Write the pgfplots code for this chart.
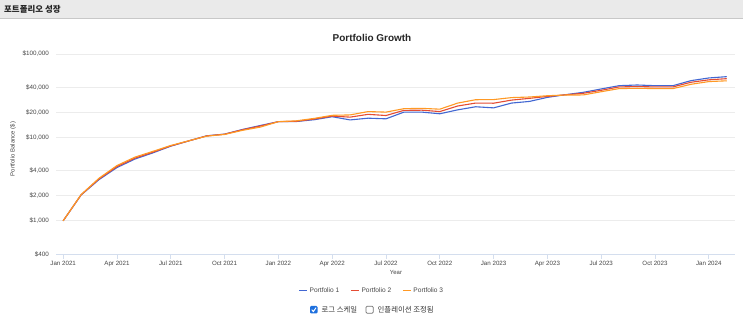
\documentclass[border=0pt]{standalone}
\usepackage{pgfplots}
\pgfplotsset{compat=1.18}
\usepackage{pgfplotstable}
\usepackage{fontspec}
\setmainfont{Liberation Sans}
\newfontfamily\kr{Noto Sans CJK KR}
\definecolor{pblue}{RGB}{66,103,210}
\definecolor{pred}{RGB}{228,76,52}
\definecolor{porange}{RGB}{255,153,36}
\definecolor{gridc}{RGB}{236,236,236}
\definecolor{axc}{RGB}{212,222,238}
\definecolor{hdr}{RGB}{234,234,234}
\definecolor{hdrline}{RGB}{200,200,200}
\definecolor{txt}{RGB}{70,70,70}
\definecolor{cbblue}{RGB}{30,112,222}

% month index (0 = Jan 2021), balances
\pgfplotstableread{
m  p1     p2     p3
0  1000   1000   1000
1  2040   2050   2060
2  3120   3180   3240
3  4350   4470   4600
4  5500   5640   5800
5  6520   6650   6800
6  7850   7910   8000
7  9080   9080   9100
8  10450  10420  10350
9  10950  10920  10850
10 12450  12350  12150
11 13900  13700  13300
12 15450  15450  15450
13 15500  15600  15800
14 16300  16600  16900
15 17700  18000  18400
16 16200  17500  18600
17 17000  18900  20400
18 16700  18300  20100
19 20100  21100  22100
20 20100  21200  22300
21 19200  20400  21800
22 21400  23800  25800
23 23300  25800  28300
24 22600  25700  28400
25 25800  28000  30000
26 27000  29400  30500
27 30200  31000  31600
28 32500  32400  32200
29 34700  33800  32300
30 38100  36700  35300
31 41700  40300  38500
32 42500  40700  38800
33 41700  40300  38500
34 41700  40300  38500
35 47900  45800  43300
36 51600  49000  46700
37 53500  50600  47700
}\growth

\begin{document}
\begin{tikzpicture}
\useasboundingbox (0,0) rectangle (743bp,327bp);
\fill[white] (0,0) rectangle (743bp,327bp);
% header bar
\fill[hdr] (0,308.5bp) rectangle (743bp,327bp);
\draw[hdrline, line width=0.8bp] (0,308.5bp) -- (743bp,308.5bp);
\node[anchor=west, inner sep=0pt, text=black!85] at (4bp,318bp) {\kr\bfseries\fontsize{8.5}{10}\selectfont 포트폴리오 성장};

\begin{axis}[
  at={(56bp,73bp)}, anchor=south west,
  scale only axis, width=679bp, height=200bp,
  xmin=-0.4, xmax=37.46,
  ymode=log, ymin=400, ymax=100000,
  axis x line*=bottom, axis y line*=left,
  y axis line style={draw=none},
  x axis line style={draw=axc, line width=0.9bp},
  ytick={400,1000,2000,4000,10000,20000,40000,100000},
  yticklabels={{\$400},{\$1,000},{\$2,000},{\$4,000},{\$10,000},{\$20,000},{\$40,000},{\$100,000}},
  xtick={0,3,6,9,12,15,18,21,24,27,30,33,36},
  xticklabels={Jan 2021,Apr 2021,Jul 2021,Oct 2021,Jan 2022,Apr 2022,Jul 2022,Oct 2022,Jan 2023,Apr 2023,Jul 2023,Oct 2023,Jan 2024},
  minor tick num=0, log basis y=10,
  ytick style={draw=none},
  xtick style={draw=axc, line width=0.9bp},
  tick align=outside, major tick length=5bp,
  ymajorgrids, grid style={gridc, line width=0.8bp},
  yticklabel style={font=\fontsize{6.3}{7}\selectfont, text=txt, inner sep=0pt, anchor=east, xshift=-2bp},
  xticklabel style={font=\fontsize{6.2}{7}\selectfont, text=txt, inner sep=0pt, anchor=north, text height=4.4bp, text depth=1.3bp, yshift=-1.5bp},
  legend columns=3,
  legend style={at={(0.465,-0.182)}, anchor=center, draw=none, fill=none,
    font=\fontsize{6.6}{8}\selectfont, text=txt,
    /tikz/every even column/.append style={column sep=9bp}},
  legend image code/.code={\draw[#1, line width=1.3bp] (0bp,0bp) -- (8bp,0bp);},
  clip=false,
]
\addplot[pblue, line width=1.1bp] table[x=m, y=p1] {\growth};
\addlegendentry{Portfolio 1}
\addplot[pred, line width=1.1bp] table[x=m, y=p2] {\growth};
\addlegendentry{Portfolio 2}
\addplot[porange, line width=1.1bp] table[x=m, y=p3] {\growth};
\addlegendentry{Portfolio 3}
\end{axis}

% titles and labels
\node[font=\bfseries\fontsize{10}{12}\selectfont, text=black!85] at (372bp,289bp) {Portfolio Growth};
\node[rotate=90, font=\fontsize{6}{7}\selectfont, text=txt] at (13bp,178bp) {Portfolio Balance (\$)};
\node[font=\fontsize{6}{7}\selectfont, text=txt] at (396bp,54.3bp) {Year};

% checkboxes
\fill[cbblue, rounded corners=1.2bp] (310bp,13.5bp) rectangle (317.5bp,21bp);
\draw[white, line width=1bp] (311.7bp,17.3bp) -- (313.4bp,15.5bp) -- (316bp,19.3bp);
\node[anchor=west, inner sep=0pt, text=black!80] at (321.5bp,17.2bp) {\kr\fontsize{7.4}{8.5}\selectfont 로그 스케일};
\draw[black!55, line width=0.7bp, rounded corners=1.2bp] (366bp,13.7bp) rectangle (373.3bp,20.8bp);
\node[anchor=west, inner sep=0pt, text=black!80] at (377.5bp,17.2bp) {\kr\fontsize{7.4}{8.5}\selectfont 인플레이션 조정됨};
\end{tikzpicture}
\end{document}
